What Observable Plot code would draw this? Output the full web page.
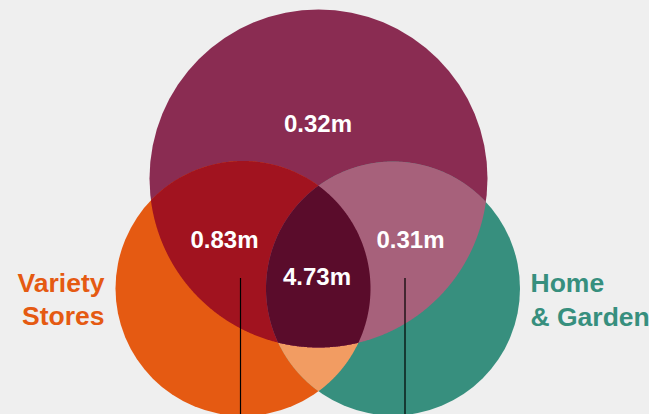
<!DOCTYPE html>
<html><head><meta charset="utf-8">
<script src="https://cdn.jsdelivr.net/npm/d3@7"></script>
<script src="https://cdn.jsdelivr.net/npm/@observablehq/plot@0.6"></script>
<style>
html,body{margin:0;padding:0;background:#efefef;}
#chart svg{display:block;}
</style></head><body><div id="chart"></div>
<script>
// ---- data ----
const sets = ["Main", "Variety Stores", "Home & Garden"];
const setLabelLines = [["Variety", "Stores"], ["Home", "& Garden"]];
const regionValues = [0.32, 0.83, 4.73, 0.31];
const regionLabels = ["0.32m", "0.83m", "4.73m", "0.31m"];
const regionMembers = [["Main"], ["Main", "Variety Stores"], ["Main", "Variety Stores", "Home & Garden"], ["Main", "Home & Garden"]];
const overlapRegions = [["Variety Stores", "Home & Garden"], ["Main", "Variety Stores"], ["Main", "Home & Garden"], ["Main", "Variety Stores", "Home & Garden"]];

// ---- layout & style (chart units) ----
const W = 649, H = 414;
const circleLayout = {
  "Main": {cx: 318, cy: 178, r: 169},
  "Variety Stores": {cx: 242.5, cy: 288, r: 127.5},
  "Home & Garden": {cx: 392.5, cy: 288, r: 127}
};
const setColor = {"Main": "#8a2c52", "Variety Stores": "#e55a12", "Home & Garden": "#378f7e"};
const overlapColor = ["#f29c62", "#a1131f", "#a7617b", "#5a0c2b"];
const regionLabelPos = [[317.5, 131.5], [224, 247.5], [316.5, 284], [410, 247.5]];
const setLabelPos = [{x: 104, anchor: "end", ys: [291.5, 324.5]}, {x: 530, anchor: "start", ys: [291.5, 325]}];
const leaderX = [240, 404.5], leaderTop = 278;

// ---- geometry ----
function circlePoints(c, n = 1440) {
  return d3.range(n).map(i => {
    const a = 2 * Math.PI * i / n;
    return [c.cx + c.r * Math.cos(a), c.cy + c.r * Math.sin(a)];
  });
}
function inside(p, c) { return Math.hypot(p[0] - c.cx, p[1] - c.cy) <= c.r + 0.01; }
function intersectionPolygon(names) {
  const cs = names.map(n => circleLayout[n]);
  let pts = [];
  cs.forEach((c, i) => {
    circlePoints(c).forEach(p => { if (cs.every((o, j) => j === i || inside(p, o))) pts.push(p); });
  });
  const mx = d3.mean(pts, p => p[0]), my = d3.mean(pts, p => p[1]);
  pts.sort((a, b) => Math.atan2(a[1] - my, a[0] - mx) - Math.atan2(b[1] - my, b[0] - mx));
  return pts;
}
const circleData = sets.map(s => ({name: s, ...circleLayout[s], fill: setColor[s]}));
const polyData = overlapRegions.flatMap((names, i) =>
  intersectionPolygon(names).map(p => ({region: names.join("∩"), x: p[0], y: p[1], fill: overlapColor[i]})));
const labelData = regionLabels.map((t, i) => ({text: t, value: regionValues[i], x: regionLabelPos[i][0], y: regionLabelPos[i][1]}));
const setTextData = setLabelLines.flatMap((lines, k) => lines.map((t, j) => ({
  text: t, x: setLabelPos[k].x, y: setLabelPos[k].ys[j], anchor: setLabelPos[k].anchor,
  fill: setColor[sets[k + 1]]
})));
const leaderData = leaderX.map(x => ({x, y1: leaderTop, y2: H}));

const chart = Plot.plot({
  width: W, height: H,
  margin: 0,
  style: {background: "#efefef", fontFamily: "'Liberation Sans', Arial, sans-serif"},
  x: {domain: [0, W], axis: null},
  y: {domain: [0, H], reverse: true, axis: null},
  r: {type: "identity"},
  color: {type: "identity"},
  marks: [
    Plot.dot(circleData, {x: "cx", y: "cy", r: "r", fill: "fill", stroke: null}),
    Plot.line(polyData, {x: "x", y: "y", z: "region", fill: "fill", stroke: "none", curve: "linear-closed"}),
    Plot.text(labelData, {x: "x", y: "y", text: "text", fill: "white", fontSize: 24, fontWeight: "bold", lineAnchor: "bottom", textAnchor: "middle"}),
    Plot.text(setTextData.filter(d => d.anchor === "end"), {x: "x", y: "y", text: "text", fill: "fill", fontSize: 26.5, fontWeight: "bold", lineAnchor: "bottom", textAnchor: "end"}),
    Plot.text(setTextData.filter(d => d.anchor === "start"), {x: "x", y: "y", text: "text", fill: "fill", fontSize: 26.5, fontWeight: "bold", lineAnchor: "bottom", textAnchor: "start"}),
    Plot.ruleX(leaderData, {x: "x", y1: "y1", y2: "y2", stroke: "#000", strokeWidth: 1.2})
  ]
});
document.getElementById("chart").appendChild(chart);
</script>
</body></html>
